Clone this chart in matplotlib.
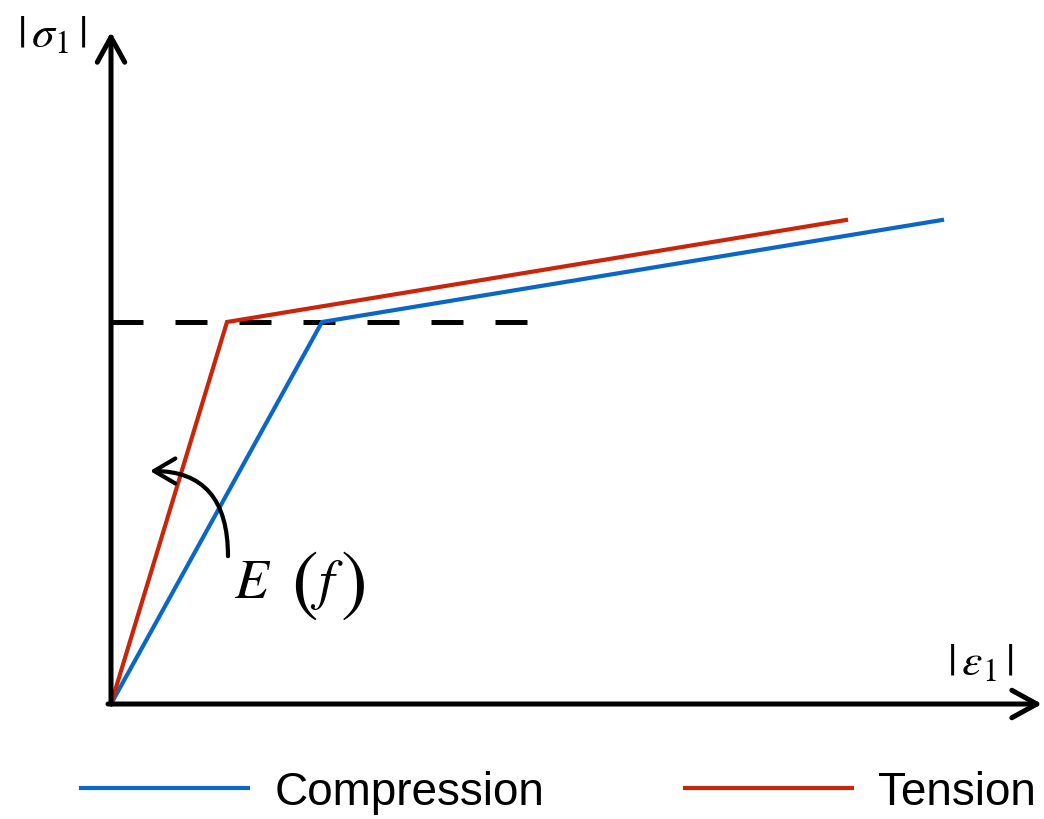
import matplotlib
matplotlib.use("Agg")
import matplotlib.pyplot as plt
from matplotlib.lines import Line2D

plt.rcParams['mathtext.fontset'] = 'stix'
plt.rcParams['font.family'] = ['Liberation Sans', 'DejaVu Sans']

# strain (arbitrary units) and stress (yield = 1)
comp_strain = [0.0, 2.11, 8.31]
comp_stress = [0.0, 1.0, 1.267]
tens_strain = [0.0, 1.16, 7.35]
tens_stress = [0.0, 1.0, 1.267]
yield_stress = 1.0
yield_line_end = 4.17

labels = ["Compression", "Tension"]
blue = "#0a67c8"
red = "#c9250b"

fig = plt.figure(figsize=(10.44, 8.2), dpi=100)
ax = fig.add_axes([0, 0, 1, 1])
ax.set_xlim(-1.11, 9.33)
ax.set_ylim(-0.301, 1.8455)
ax.axis("off")

# axes with open arrowheads
axis_style = "->,head_length=1.0,head_width=0.55"
ax.annotate("", xy=(0, 1.759), xytext=(0, 0),
            arrowprops=dict(arrowstyle=axis_style, lw=3.6, color="black",
                            mutation_scale=18, shrinkA=0, shrinkB=0))
ax.annotate("", xy=(9.31, 0), xytext=(-0.03, 0),
            arrowprops=dict(arrowstyle=axis_style, lw=3.6, color="black",
                            mutation_scale=18, shrinkA=0, shrinkB=0))

# yield level
ax.plot([0, yield_line_end], [yield_stress, yield_stress], color="black",
        lw=3.6, dashes=(6.4, 6.4), solid_capstyle="butt", dash_capstyle="butt")

ax.plot(comp_strain, comp_stress, color=blue, lw=3.0, solid_joinstyle="miter")
ax.plot(tens_strain, tens_stress, color=red, lw=3.0, solid_joinstyle="miter")

# curved arrow for E(f)
ax.annotate("", xy=(0.39, 0.610), xytext=(1.17, 0.387),
            arrowprops=dict(arrowstyle="->,head_length=0.85,head_width=0.5",
                            connectionstyle="angle3,angleA=90,angleB=0",
                            lw=3.0, color="black", mutation_scale=18,
                            shrinkA=0, shrinkB=0))
# E(f) with tall parentheses
ax.text(1.42, 0.280, r"$E$", fontsize=40, ha="center", va="baseline")
ax.text(1.93, 0.314, r"$($", fontsize=58, ha="center", va="center")
ax.text(2.16, 0.280, r"$f$", fontsize=40, ha="center", va="baseline")
ax.text(2.41, 0.314, r"$)$", fontsize=58, ha="center", va="center")

ax.text(-0.59, 1.7225, r"$|\,\sigma_1\,|$", fontsize=33, ha="center", va="baseline")
ax.text(8.69, 0.0785, r"$|\,\varepsilon_1\,|$", fontsize=33, ha="center", va="baseline")

handles = [Line2D([], [], color=blue, lw=3.0), Line2D([], [], color=red, lw=3.0)]
fig.legend(handles, labels, loc="center left", bbox_to_anchor=(81 / 1044, 1 - 793 / 820),
           ncol=2, frameon=False, fontsize=33, handlelength=3.65, handletextpad=0.58,
           columnspacing=3.05, borderpad=0, borderaxespad=0)

fig.savefig("out.png", dpi=100)
